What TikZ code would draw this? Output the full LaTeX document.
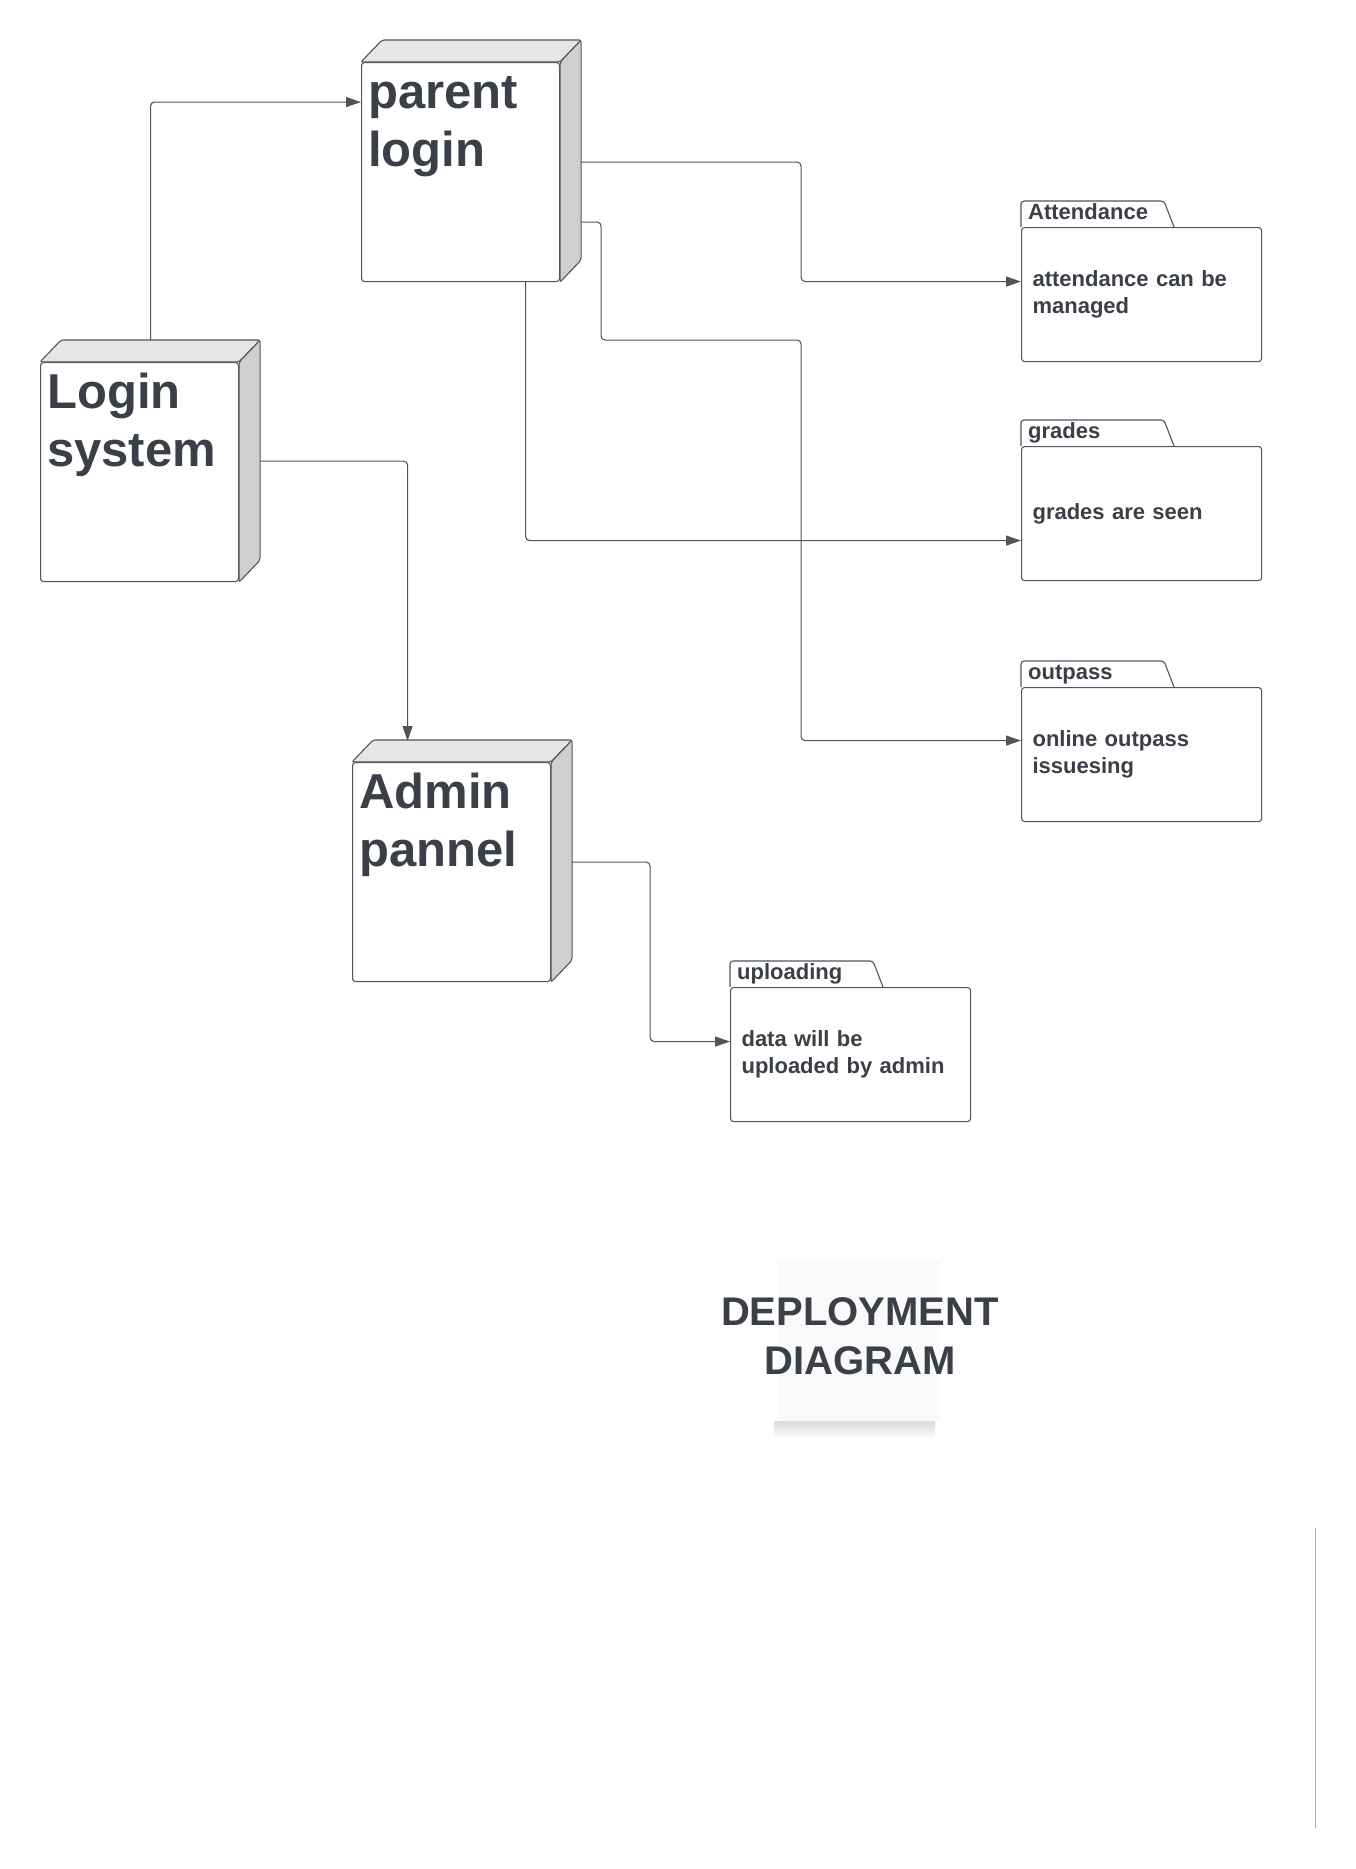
\documentclass[tikz,border=0pt]{standalone}
\usepackage{fontspec}
\setmainfont{Liberation Sans}
\usetikzlibrary{arrows.meta,calc,positioning}

\definecolor{ink}{HTML}{3A3F48}
\definecolor{wire}{HTML}{50555C}
\definecolor{topgray}{HTML}{E6E6E6}
\definecolor{sidegray}{HTML}{CFCFCF}

\tikzset{
  devbox/.style={draw=wire, fill=white, line width=1.1pt, rounded corners=3pt, minimum width=198pt, minimum height=219pt, inner sep=0pt, anchor=north west},
  topface/.style={draw=wire, fill=topgray, line width=1.1pt, rounded corners=2pt},
  sideface/.style={draw=wire, fill=sidegray, line width=1.1pt, rounded corners=2pt},
  devname/.style={anchor=north west, inner sep=0pt, align=left, text=ink, font=\bfseries\fontsize{49}{58}\selectfont},
  pkgbody/.style={draw=wire, fill=white, line width=1.1pt, rounded corners=3pt, anchor=north west, minimum height=134pt, text width=218pt, inner xsep=11pt, inner ysep=0pt, align=left, text=ink, font=\bfseries\fontsize{22}{27}\selectfont},
  pkgtab/.style={draw=wire, line width=1.1pt, rounded corners=3pt},
  tabname/.style={anchor=base west, inner sep=0pt, text=ink, font=\bfseries\fontsize{22}{27}\selectfont},
  conn/.style={draw=wire, line width=1.1pt, rounded corners=4pt, -{Triangle[length=15pt,width=10pt]}},
  titletext/.style={align=center, inner sep=0pt, text=ink, font=\bfseries\fontsize{40}{49}\selectfont}
}

\begin{document}
\begin{tikzpicture}[x=1pt,y=-1pt]
  \useasboundingbox (0,0) rectangle (1356,1869);

  \node[devbox] (parent) at (361,62) {};
  \node[devbox] (sys) at (40,362) {};
  \node[devbox] (admin) at (352,762) {};
  \foreach \b in {parent,sys,admin}{
    \filldraw[topface] (\b.north west) -- ++(21,-22) -- ($(\b.north east)+(21,-22)$) -- (\b.north east) -- cycle;
    \filldraw[sideface] (\b.north east) -- ++(21,-22) -- ($(\b.south east)+(21,-22)$) -- (\b.south east) -- cycle;
  }
  \node[devname] (parentT) at ($(parent.north west)+(7,6)$) {\strut parent\\login};
  \node[devname] (sysT) at ($(sys.north west)+(7,6)$) {\strut Login\\system};
  \node[devname] (adminT) at ($(admin.north west)+(7,6)$) {\strut Admin\\pannel};

  \node[pkgbody] (att) at (1021,227) {attendance can be\\managed};
  \node[pkgbody] (grd) at (1021,446) {grades are seen};
  \node[pkgbody] (outp) at (1021,687) {online outpass\\issuesing};
  \node[pkgbody] (upl) at (730,987) {data will be\\uploaded by admin};
  \foreach \p in {att,grd,outp,upl}
    \draw[pkgtab] (\p.north west) -- ++(0,-26) -- ++(143,0) -- ++(10,26);
  \node[tabname] (attT) at ($(att.north west)+(7,-8)$) {Attendance};
  \node[tabname] (grdT) at ($(grd.north west)+(7,-8)$) {grades};
  \node[tabname] (outpT) at ($(outp.north west)+(7,-8)$) {outpass};
  \node[tabname] (uplT) at ($(upl.north west)+(7,-8)$) {uploading};

  \draw[conn] ($(sys.north)+(11,-22)$) |- ($(parent.west)+(0,-70)$);
  \draw[conn] ($(sys.east)+(21,-11)$) -| ($(admin.north)+(-44,-21)$);
  \draw[conn] ($(parent.east)+(21,-10)$) -- ++(220,0) |- ($(att.west)+(0,-13)$);
  \draw[conn] ($(parent.east)+(21,50)$) -- ++(20,0) -- ++(0,118) -- ++(200,0) |- ($(outp.west)+(0,-14)$);
  \draw[conn] ($(parent.south)+(65,0)$) |- ($(grd.west)+(0,27)$);
  \draw[conn] ($(admin.east)+(21,-10)$) -- ++(78,0) |- ($(upl.west)+(0,-13)$);

  \fill[black!2] (779,1261) rectangle (940,1421);
  \foreach \d in {2,4,...,18}
    \fill[black,opacity=0.016] (774,1421) rectangle (935,1421+\d);
  \node[titletext] (title) at (860,1336) {DEPLOYMENT\\DIAGRAM};

  \draw[gray!60, line width=1.2pt] (1315.5,1528) -- (1315.5,1828);
\end{tikzpicture}
\end{document}
